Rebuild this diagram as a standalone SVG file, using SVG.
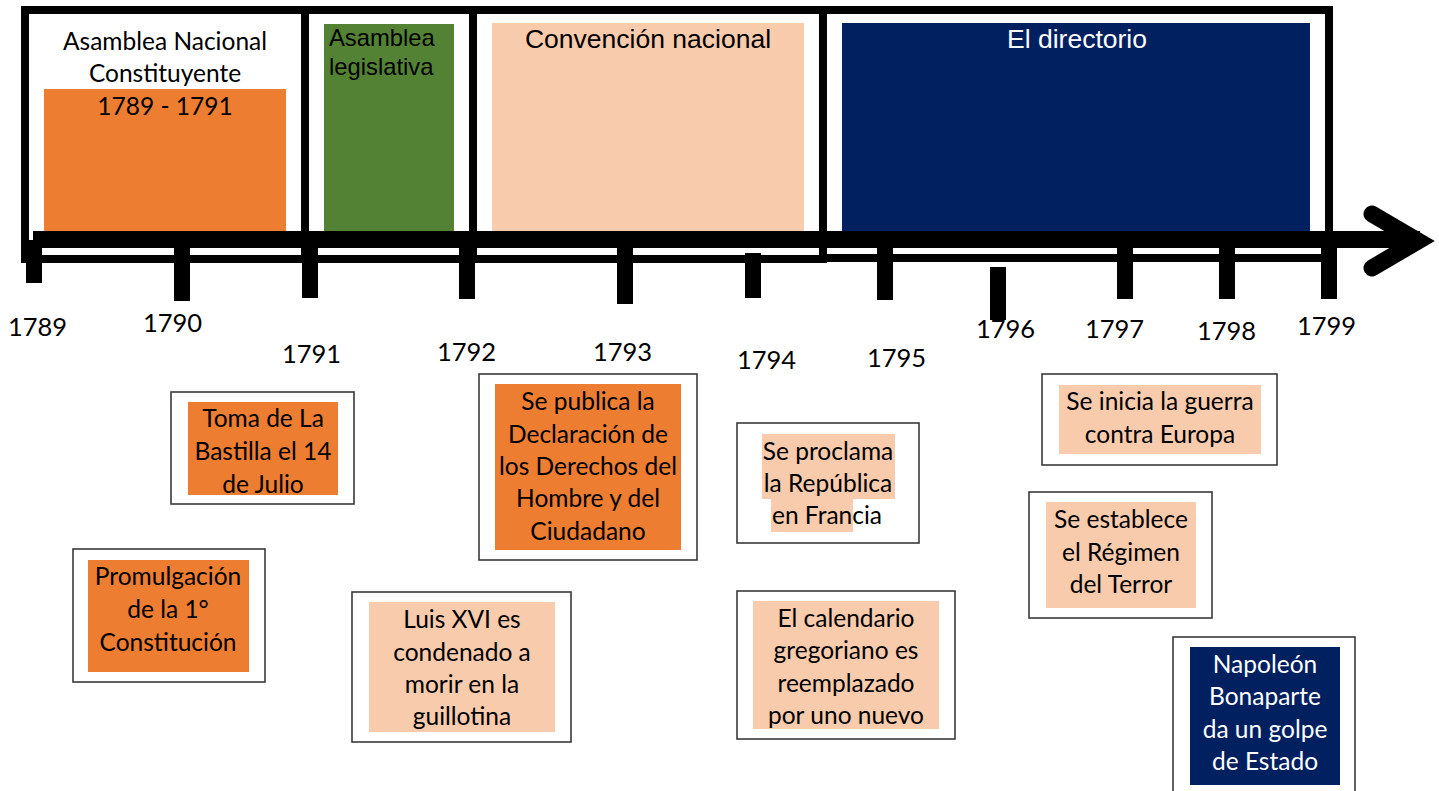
<svg xmlns="http://www.w3.org/2000/svg" width="1439" height="791" viewBox="0 0 1439 791">
<style>
.frame{fill:none;stroke:#000;stroke-width:8}
.ebox{fill:#fff;stroke:#3a3a3a;stroke-width:1.6}
.cal{font-family:Lato,"Open Sans","Liberation Sans",sans-serif;font-size:24.5px;fill:#000;text-anchor:middle}
.ari{font-family:"Liberation Sans",Arial,sans-serif;fill:#000}
.yr{font-family:Lato,"Open Sans","Liberation Sans",sans-serif;font-size:25.5px;fill:#000}
.tick{fill:#000}
.orange{fill:#ED7D31}
.peach{fill:#F8CBAD}
.navy{fill:#002060}
.green{fill:#548235}
</style>
<rect width="1439" height="791" fill="#fff"/>

<g id="period-constituyente">
<rect class="orange" x="44" y="89" width="242" height="142"/>
<rect class="frame" x="25" y="10" width="280" height="249"/>
<text class="cal" x="165" y="50">Asamblea Nacional</text>
<text class="cal" x="165" y="82">Constituyente</text>
<text class="cal" x="165" y="115">1789 - 1791</text>
</g>

<g id="period-legislativa">
<rect class="green" x="324" y="24" width="130" height="207"/>
<rect class="frame" x="305" y="10" width="168" height="249"/>
<text class="ari" font-size="23.8" x="329" y="46">Asamblea</text>
<text class="ari" font-size="23.8" x="329" y="75">legislativa</text>
</g>

<g id="period-convencion">
<rect class="peach" x="492" y="23" width="312" height="208"/>
<rect class="frame" x="473" y="10" width="350" height="249"/>
<text class="ari" font-size="26.5" x="648" y="48" text-anchor="middle">Convención nacional</text>
</g>

<g id="period-directorio">
<rect class="navy" x="842" y="23" width="468" height="210"/>
<rect class="frame" x="823" y="10" width="506" height="248"/>
<text class="ari" font-size="26.5" x="1077" y="48" text-anchor="middle" style="fill:#fff">El directorio</text>
</g>

<g id="connectors">
<rect x="33" y="231" width="1387" height="17" fill="#000"/>
<polyline points="1372,214 1418,241 1372,268" fill="none" stroke="#000" stroke-width="17" stroke-linecap="round" stroke-linejoin="miter"/>
<rect class="tick" x="26" y="240" width="16" height="43"/>
<rect class="tick" x="174" y="240" width="16" height="61"/>
<rect class="tick" x="302" y="240" width="16" height="58"/>
<rect class="tick" x="459" y="240" width="16" height="59"/>
<rect class="tick" x="617" y="240" width="16" height="64"/>
<rect class="tick" x="745" y="253" width="16" height="45"/>
<rect class="tick" x="877" y="240" width="16" height="60"/>
<rect class="tick" x="990" y="267" width="16" height="53"/>
<rect class="tick" x="1117" y="240" width="16" height="59"/>
<rect class="tick" x="1219" y="240" width="16" height="59"/>
<rect class="tick" x="1321" y="240" width="16" height="59"/>
</g>

<g id="years">
<text class="yr" x="8" y="336">1789</text>
<text class="yr" x="143" y="332">1790</text>
<text class="yr" x="282" y="363">1791</text>
<text class="yr" x="437" y="361">1792</text>
<text class="yr" x="593" y="361">1793</text>
<text class="yr" x="737" y="369">1794</text>
<text class="yr" x="867" y="367">1795</text>
<text class="yr" x="976" y="338">1796</text>
<text class="yr" x="1085" y="338">1797</text>
<text class="yr" x="1197" y="340">1798</text>
<text class="yr" x="1297" y="335">1799</text>
</g>

<g id="event-bastilla">
<rect class="ebox" x="171" y="392" width="183" height="112"/>
<rect class="orange" x="188" y="402" width="150" height="93"/>
<text class="cal" x="263"><tspan x="263" y="427">Toma de La</tspan><tspan x="263" y="460">Bastilla el 14</tspan><tspan x="263" y="493">de Julio</tspan></text>
</g>

<g id="event-constitucion">
<rect class="ebox" x="73" y="549" width="192" height="133"/>
<rect class="orange" x="88" y="560" width="161" height="112"/>
<text class="cal" x="168"><tspan x="168" y="585">Promulgación</tspan><tspan x="168" y="618">de la 1°</tspan><tspan x="168" y="651">Constitución</tspan></text>
</g>

<g id="event-declaracion">
<rect class="ebox" x="479" y="374" width="218" height="186"/>
<rect class="orange" x="495" y="384" width="186" height="166"/>
<text class="cal" x="588"><tspan x="588" y="410">Se publica la</tspan><tspan x="588" y="443">Declaración de</tspan><tspan x="588" y="475">los Derechos del</tspan><tspan x="588" y="507">Hombre y del</tspan><tspan x="588" y="540">Ciudadano</tspan></text>
</g>

<g id="event-luis">
<rect class="ebox" x="352" y="592" width="219" height="150"/>
<rect class="peach" x="369" y="602" width="186" height="130"/>
<text class="cal" x="462"><tspan x="462" y="628">Luis XVI es</tspan><tspan x="462" y="661">condenado a</tspan><tspan x="462" y="693">morir en la</tspan><tspan x="462" y="725">guillotina</tspan></text>
</g>

<g id="event-republica">
<rect class="ebox" x="737" y="423" width="182" height="120"/>
<path class="peach" d="M762,434 H895 V499 H853 V532 H771 V499 H762 Z"/>
<text class="cal" x="828"><tspan x="828" y="460">Se proclama</tspan><tspan x="828" y="492">la República</tspan><tspan x="827" y="524">en Francia</tspan></text>
</g>

<g id="event-calendario">
<rect class="ebox" x="737" y="591" width="218" height="148"/>
<rect class="peach" x="753" y="601" width="186" height="128"/>
<text class="cal" x="846"><tspan x="846" y="627">El calendario</tspan><tspan x="846" y="659">gregoriano es</tspan><tspan x="846" y="692">reemplazado</tspan><tspan x="846" y="724">por uno nuevo</tspan></text>
</g>

<g id="event-guerra">
<rect class="ebox" x="1042" y="374" width="235" height="91"/>
<rect class="peach" x="1059" y="385" width="202" height="69"/>
<text class="cal" x="1160"><tspan x="1160" y="410">Se inicia la guerra</tspan><tspan x="1160" y="443">contra Europa</tspan></text>
</g>

<g id="event-terror">
<rect class="ebox" x="1029" y="492" width="183" height="126"/>
<rect class="peach" x="1046" y="502" width="150" height="106"/>
<text class="cal" x="1121"><tspan x="1121" y="528">Se establece</tspan><tspan x="1121" y="561">el Régimen</tspan><tspan x="1121" y="593">del Terror</tspan></text>
</g>

<g id="event-napoleon">
<rect class="ebox" x="1173" y="637" width="182" height="170"/>
<rect class="navy" x="1190" y="647" width="150" height="138"/>
<text class="cal" x="1265" style="fill:#fff"><tspan x="1265" y="673">Napoleón</tspan><tspan x="1265" y="705">Bonaparte</tspan><tspan x="1265" y="738">da un golpe</tspan><tspan x="1265" y="770">de Estado</tspan></text>
</g>
</svg>
